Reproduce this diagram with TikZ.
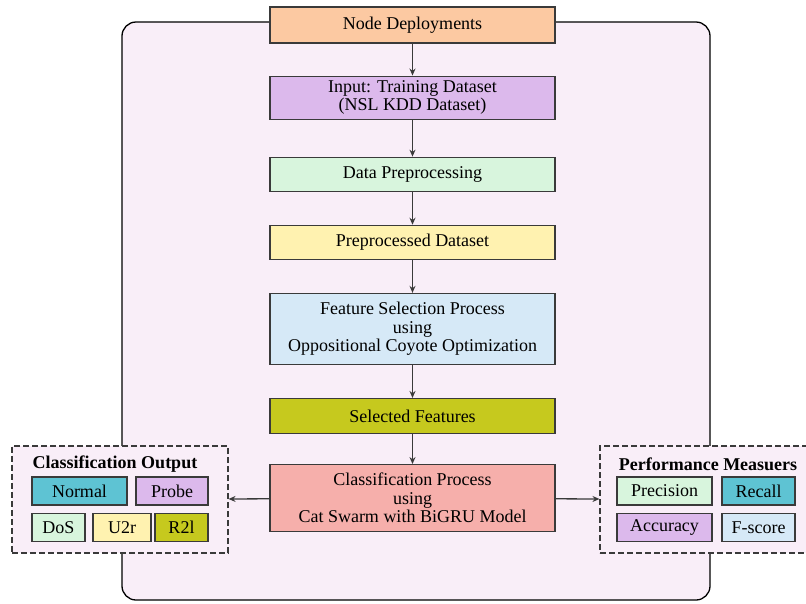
\documentclass[tikz,border=0pt]{standalone}
\usepackage{fontspec}
\setmainfont{Liberation Serif}
\usetikzlibrary{arrows.meta,positioning,backgrounds}
\definecolor{cOrange}{HTML}{FCC9A2}
\definecolor{cPurple}{HTML}{DCB9EC}
\definecolor{cGreen}{HTML}{D8F5DD}
\definecolor{cYellow}{HTML}{FFF2B0}
\definecolor{cBlue}{HTML}{D6E9F7}
\definecolor{cOlive}{HTML}{C6C91E}
\definecolor{cSalmon}{HTML}{F6AFAB}
\definecolor{cTeal}{HTML}{5EC3D3}
\definecolor{cBack}{HTML}{F9EEF8}
\definecolor{cLine}{HTML}{3A3A3A}

\begin{document}
\begin{tikzpicture}[x=1pt, y=-1pt, node distance=33pt, >={Stealth[length=7pt,width=6pt]},
  box/.style={draw=cLine, line width=1.1pt, align=center, minimum width=285pt, minimum height=34pt, inner sep=2pt, font=\fontsize{18}{18.5}\selectfont},
  tag/.style={draw=cLine, line width=1.1pt, minimum height=28pt, inner sep=1pt, font=\fontsize{18}{18.5}\selectfont},
  group/.style={draw=cLine, line width=1.1pt, dash pattern=on 6pt off 3pt, fill=cBack, minimum width=216pt, minimum height=107pt},
  title/.style={font=\bfseries\fontsize{18}{18.5}\selectfont},
  link/.style={->, draw=cLine, line width=1.3pt}]
\useasboundingbox (0,0) rectangle (806,603);
\draw[line width=1.3pt, fill=cBack, rounded corners=14pt] (122,22) rectangle (710,600);
\node[box, fill=cOrange, minimum height=36pt] (nd) at (412.5,25) {Node Deployments};
\node[box, fill=cPurple, minimum height=43pt, below=32pt of nd] (inp) {Input: Training Dataset\\(NSL KDD Dataset)};
\node[box, fill=cGreen, below=37pt of inp] (pre) {Data Preprocessing};
\node[box, fill=cYellow, below=of pre] (pds) {Preprocessed Dataset};
\node[box, fill=cBlue, minimum height=71pt, below=of pds] (fsp) {Feature Selection Process\\using\\Oppositional Coyote Optimization};
\node[box, fill=cOlive, minimum height=35pt, below=of fsp] (sel) {Selected Features};
\node[box, fill=cSalmon, minimum height=67pt, below=30pt of sel] (cls) {Classification Process\\using\\Cat Swarm with BiGRU Model};
\foreach \a/\b in {nd/inp, inp/pre, pre/pds, pds/fsp, fsp/sel, sel/cls}
  \draw[link] (\a) -- (\b);
% classification output
\node[group] (cout) at (120,499.5) {};
\node[title] (couttitle) at (115,464) {Classification Output};
\node[tag, fill=cTeal, minimum width=95pt] (normal) at (79.5,491) {Normal};
\node[tag, fill=cPurple, minimum width=72pt] (probe) at (172,491) {Probe};
\node[tag, fill=cGreen, minimum width=53pt] (dos) at (58.5,527.5) {DoS};
\node[tag, fill=cYellow, minimum width=58pt] (utr) at (122,527.5) {U2r};
\node[tag, fill=cOlive, minimum width=53pt] (rtl) at (181.5,527.5) {R2l};
\draw[link] (cls) -- (cout);
% performance measures
\node[group, minimum width=208pt] (perf) at (704,499.5) {};
\node[title] (perftitle) at (708,464) {Performance Measuers};
\node[tag, fill=cGreen, minimum width=95pt] (prec) at (664.5,491) {Precision};
\node[tag, fill=cTeal, minimum width=73pt] (rec) at (758.5,491) {Recall};
\node[tag, fill=cPurple, minimum width=95pt] (acc) at (664.5,527.5) {Accuracy};
\node[tag, fill=cBlue, minimum width=73pt] (fsc) at (758.5,527.5) {F-score};
\draw[link] (cls) -- (perf);
\end{tikzpicture}
\end{document}
